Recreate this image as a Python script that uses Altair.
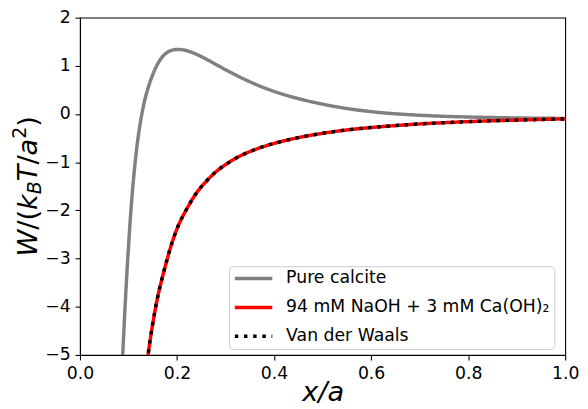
import altair as alt
import pandas as pd

# ---------------- data ----------------
series_names = ["Pure calcite", "94 mM NaOH + 3 mM Ca(OH)₂", "Van der Waals"]
series_colors = ["#808080", "#ff0000", "#000000"]
series_dashes = [[1, 0], [1, 0], [3.5, 5.8]]

calcite_x = [0.085, 0.088, 0.095, 0.100, 0.105, 0.110, 0.115, 0.120, 0.125, 0.130,
             0.135, 0.140, 0.150, 0.160, 0.170, 0.180, 0.190, 0.200, 0.210, 0.220,
             0.240, 0.260, 0.280, 0.300, 0.330, 0.360, 0.400, 0.430, 0.460, 0.500,
             0.550, 0.600, 0.650, 0.700, 0.750, 0.800, 0.850, 0.900, 0.950, 1.000]
calcite_w = [-5.6, -5.0, -3.6, -2.75, -2.0, -1.38, -0.88, -0.47, -0.14, 0.13,
             0.35, 0.53, 0.82, 1.04, 1.19, 1.28, 1.325, 1.34, 1.335, 1.315,
             1.24, 1.14, 1.03, 0.92, 0.765, 0.625, 0.47, 0.375, 0.295, 0.205,
             0.115, 0.05, 0.005, -0.025, -0.047, -0.062, -0.073, -0.081, -0.087, -0.091]

naoh_x = [0.13, 0.14, 0.15, 0.16, 0.17, 0.18, 0.19, 0.20, 0.22, 0.24, 0.26, 0.28,
          0.30, 0.33, 0.36, 0.40, 0.45, 0.50, 0.55, 0.60, 0.65, 0.70, 0.75, 0.80,
          0.85, 0.90, 0.95, 1.00]
naoh_w = [-5.9, -5.02, -4.35, -3.80, -3.38, -3.0, -2.66, -2.38, -1.97, -1.64, -1.40, -1.20,
          -1.05, -0.87, -0.74, -0.61, -0.49, -0.40, -0.33, -0.28, -0.24, -0.205, -0.18, -0.158,
          -0.14, -0.126, -0.113, -0.102]

vdw_x = [0.13, 0.14, 0.15, 0.16, 0.17, 0.18, 0.19, 0.20, 0.22, 0.24, 0.26, 0.28,
         0.30, 0.33, 0.36, 0.40, 0.45, 0.50, 0.55, 0.60, 0.65, 0.70, 0.75, 0.80,
         0.85, 0.90, 0.95, 1.00]
vdw_w = [-5.9, -5.02, -4.35, -3.80, -3.38, -3.0, -2.66, -2.38, -1.97, -1.64, -1.40, -1.20,
         -1.05, -0.87, -0.74, -0.61, -0.49, -0.40, -0.33, -0.28, -0.24, -0.205, -0.18, -0.158,
         -0.14, -0.126, -0.113, -0.102]

x_ticks = [0.0, 0.2, 0.4, 0.6, 0.8, 1.0]
y_ticks = [-5, -4, -3, -2, -1, 0, 1, 2]
x_title = "x/a"
# y-axis title pieces: text, style, relative size, baseline shift (px, + = toward plot)
y_title_parts = [("W", "italic", 1.0, 0), ("/(", "normal", 1.0, 0), ("k", "italic", 1.0, 0),
                 ("B", "italic", 0.7, 4), ("T", "italic", 1.0, 0), ("/", "normal", 1.0, 0),
                 ("a", "italic", 1.0, 0), ("2", "normal", 0.7, -11), (")", "normal", 1.0, 0)]
# DejaVu Sans advance widths (em)
glyph_w = {"W": 0.989, "/": 0.337, "(": 0.390, ")": 0.390, "k": 0.580, "B": 0.686,
           "T": 0.611, "a": 0.613, "2": 0.636}

# ---------------- build ----------------
W, H = 492, 342
FONT = "DejaVu Sans"
TICK_FS = 17.5
TITLE_FS = 27.5

rows = []
for name, xs, ws in zip(series_names, [calcite_x, naoh_x, vdw_x], [calcite_w, naoh_w, vdw_w]):
    for i, (x, w) in enumerate(zip(xs, ws)):
        rows.append({"series": name, "x": x, "w": w, "i": i})
df = pd.DataFrame(rows)

legend_kw = dict(
    title=None, orient="none", legendX=151, legendY=252,
    symbolType="stroke", symbolSize=1444, symbolStrokeWidth=3.5,
    labelFont=FONT, labelFontSize=TICK_FS, labelColor="black", labelLimit=500,
    fillColor="rgba(255,255,255,0.8)", strokeColor="#cccccc", cornerRadius=4,
    padding=4, clipHeight=17, rowPadding=11.3, labelOffset=12,
)

lines = alt.Chart(df).mark_line(
    clip=True, strokeWidth=3.5, interpolate="monotone", strokeCap="butt"
).encode(
    x=alt.X("x:Q", scale=alt.Scale(domain=[0, 1], nice=False, zero=False),
            axis=alt.Axis(values=x_ticks, format=".1f", title=x_title,
                          titleFontStyle="italic", titleFontSize=TITLE_FS,
                          titleFontWeight="normal", titleBaseline="alphabetic",
                          titleY=46, titleX=W / 2, titleAlign="center",
                          labelFlush=False)),
    y=alt.Y("w:Q", scale=alt.Scale(domain=[-5, 2], nice=False, zero=False),
            axis=alt.Axis(values=y_ticks, format="d", title=None)),
    color=alt.Color("series:N", scale=alt.Scale(domain=series_names, range=series_colors),
                    legend=alt.Legend(**legend_kw)),
    strokeDash=alt.StrokeDash("series:N", scale=alt.Scale(domain=series_names, range=series_dashes),
                              legend=alt.Legend(**legend_kw)),
    order="i:Q",
)

# y title built from pieces (sub/superscripts)
widths = []
for txt, style, rel, shift in y_title_parts:
    widths.append(sum(glyph_w.get(c, 0.6) for c in txt) * TITLE_FS * rel)
total = sum(widths)
y_start = H / 2 + total / 2
base_x = -44
title_layers = []
cum = 0
for (txt, style, rel, shift), wdt in zip(y_title_parts, widths):
    t = alt.Chart(alt.Data(values=[{"t": txt}])).mark_text(
        angle=270, align="left", baseline="alphabetic", font=FONT,
        fontSize=TITLE_FS * rel, fontStyle=style, color="black"
    ).encode(text="t:N", x=alt.value(base_x + shift), y=alt.value(y_start - cum))
    title_layers.append(t)
    cum += wdt

chart = alt.layer(lines, *title_layers).properties(
    width=W, height=H,
    autosize=alt.AutoSizeParams(type="none"),
    padding={"left": 73, "top": 7, "right": 15, "bottom": 52},
).configure_axis(
    labelFont=FONT, labelFontSize=TICK_FS, labelColor="black",
    domainColor="black", domainWidth=1.1, tickColor="black", tickWidth=1.1,
    tickSize=5, labelPadding=5, grid=False, titleFont=FONT, titleColor="black",
).configure_view(stroke="black", strokeWidth=1.1)

chart.save("out.html", embed_options={"renderer": "svg", "actions": False})
